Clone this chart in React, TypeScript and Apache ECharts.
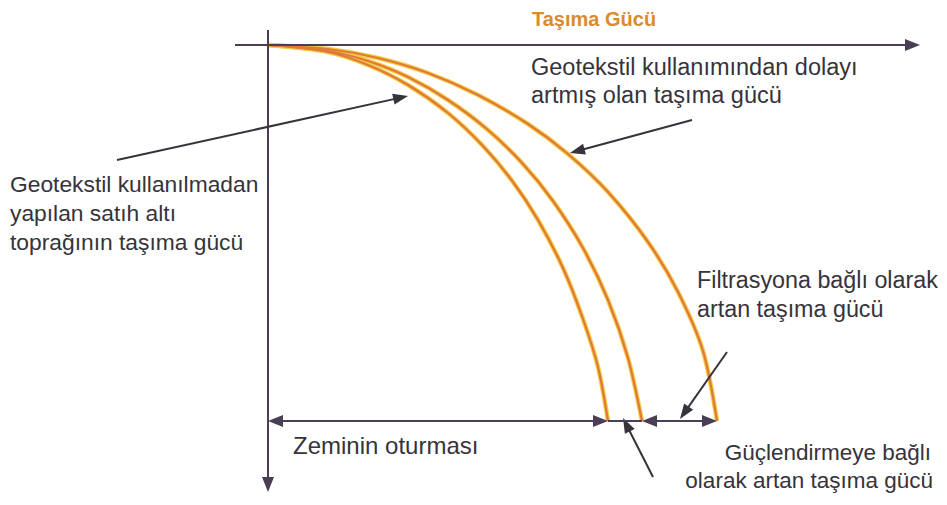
import { useEffect, useRef } from 'react';
import * as echarts from 'echarts';

// Load (x) versus settlement (y, growing downwards) for the three cases.
const baseLoad = [0, 60, 100, 140, 180, 215, 245, 270, 295, 315, 330, 340];
const baseSettle = [0, 7, 20, 40, 68, 101, 137, 175, 223, 274, 322, 376];
const midLoad = [0, 60, 100, 140, 180, 220, 255, 285, 315, 340, 360, 374];
const midSettle = [0, 6, 16, 32, 55, 85, 119, 156, 203, 255, 313, 376];
const topLoad = [0, 60, 110, 160, 210, 260, 300, 340, 380, 410, 435, 449];
const topSettle = [0, 4, 13, 28, 50, 79, 109, 147, 197, 247, 306, 376];

// Drawn axis extents (data units) and the annotation leaders.
const axisLoad = [-33, 652];
const axisSettle = [-15, 447];
const leaderFrom = [[-151, 115], [424, 75], [459, 307], [385, 432]];
const leaderTo = [[140, 51], [302, 108], [412, 374], [355, 373]];

const TITLE = 'Taşıma Gücü';
const LABEL_TOP = ['Geotekstil kullanımından dolayı', 'artmış olan taşıma gücü'];
const LABEL_LEFT = ['Geotekstil kullanılmadan', 'yapılan satıh altı', 'toprağının taşıma gücü'];
const LABEL_FILTER = ['Filtrasyona bağlı olarak', 'artan taşıma gücü'];
const LABEL_REINF = ['Güçlendirmeye bağlı', 'olarak artan taşıma gücü'];
const LABEL_SETTLE = 'Zeminin oturması';

const AXIS_COLOR = '#4a3d56';
const INK = '#36333b';
const CURVE = '#e07a35';
const CURVE_EDGE = '#f2c94a';
const FONT = '"Liberation Sans", Arial, Helvetica, sans-serif';

const pairs = (xs: number[], ys: number[]) => xs.map((x, i) => [x, ys[i]]);

// Pull an end point back along the segment so an arrowhead centred there ends on the target.
const pullBack = (from: number[], to: number[], d: number) => {
  const dx = to[0] - from[0];
  const dy = to[1] - from[1];
  const len = Math.hypot(dx, dy) || 1;
  return [to[0] - (dx / len) * d, to[1] - (dy / len) * d];
};

export default function App() {
  const ref = useRef<HTMLDivElement>(null);

  useEffect(() => {
    if (!ref.current) return;
    const chart = echarts.init(ref.current, undefined, { renderer: 'svg' });

    const curves = [
      pairs(baseLoad, baseSettle),
      pairs(midLoad, midSettle),
      pairs(topLoad, topSettle),
    ];
    const endY = baseSettle[baseSettle.length - 1];
    const baseEnd = baseLoad[baseLoad.length - 1];
    const midEnd = midLoad[midLoad.length - 1];
    const topEnd = topLoad[topLoad.length - 1];

    const curveSeries: any[] = [];
    curves.forEach((data) => {
      curveSeries.push({
        type: 'line', data, smooth: 0.3, showSymbol: false, silent: true,
        lineStyle: { color: CURVE_EDGE, width: 4.5 }, z: 2,
      });
      curveSeries.push({
        type: 'line', data, smooth: 0.3, showSymbol: false, silent: true,
        lineStyle: { color: CURVE, width: 2.2 }, z: 3,
      });
    });

    const arrowLine = (name: string, data: any[], symbol: string[], color: string, width: number, size: number[]) => ({
      type: 'line', name, data: [], silent: true, z: 4,
      markLine: {
        silent: true, animation: false,
        symbol, symbolSize: size,
        label: { show: false },
        emphasis: { disabled: true },
        lineStyle: { color, width, type: 'solid' },
        data,
      },
    });

    const HEAD = 15;
    // one arrowhead at the end
    const single = (a: number[], b: number[]) => [{ coord: a }, { coord: pullBack(a, b, HEAD / 2) }];
    // arrowheads at both ends
    const double = (a: number[], b: number[]) => [
      { coord: pullBack(b, a, HEAD / 2) },
      { coord: pullBack(a, b, HEAD / 2) },
    ];
    const plain = (a: number[], b: number[]) => [{ coord: a }, { coord: b }];

    const text = (t: string, x: number, y: number, size = 23, align = 'left', fill = INK, weight = 'normal') => ({
      type: 'text', x, y, silent: true,
      style: {
        text: t, fill, textAlign: align, textVerticalAlign: 'middle',
        font: `${weight} ${size}px ${FONT}`,
      },
    });

    chart.setOption({
      animation: false,
      grid: { left: 0, right: 0, top: 0, bottom: 0 },
      xAxis: { type: 'value', min: -268, max: 679, show: false },
      yAxis: { type: 'value', inverse: true, min: -45, max: 460, show: false },
      series: [
        ...curveSeries,
        arrowLine('axes', [
          single([axisLoad[0], 0], [axisLoad[1], 0]),
          single([0, axisSettle[0]], [0, axisSettle[1]]),
        ], ['none', 'triangle'], AXIS_COLOR, 2, [12, HEAD]),
        arrowLine('leaders', leaderFrom.map((f, i) => single(f, leaderTo[i])),
          ['none', 'triangle'], INK, 2, [11, HEAD]),
        arrowLine('dimensions', [
          double([0, endY], [baseEnd, endY]),
          double([midEnd, endY], [topEnd, endY]),
        ], ['triangle', 'triangle'], AXIS_COLOR, 2, [12, HEAD]),
        arrowLine('gap', [plain([baseEnd, endY], [midEnd, endY])], ['none', 'none'], AXIS_COLOR, 2, [1, 1]),
      ],
      graphic: [
        text(TITLE, 532, 19, 20, 'left', '#dc8a2e', 'bold'),
        text(LABEL_TOP[0], 531, 67, 23.5),
        text(LABEL_TOP[1], 531, 95, 23.5),
        text(LABEL_LEFT[0], 10, 184, 22.8),
        text(LABEL_LEFT[1], 10, 213, 22.8),
        text(LABEL_LEFT[2], 10, 242, 22.8),
        text(LABEL_FILTER[0], 697, 280, 23.3),
        text(LABEL_FILTER[1], 697, 309, 23.3),
        text(LABEL_REINF[0], 931, 452, 22.5, 'right'),
        text(LABEL_REINF[1], 933, 480, 22.5, 'right'),
        text(LABEL_SETTLE, 293, 445, 24),
      ],
    });

    return () => chart.dispose();
  }, []);

  return (
    <div
      ref={ref}
      style={{ position: 'fixed', left: 0, top: 0, width: 947, height: 505, background: '#ffffff' }}
    />
  );
}
